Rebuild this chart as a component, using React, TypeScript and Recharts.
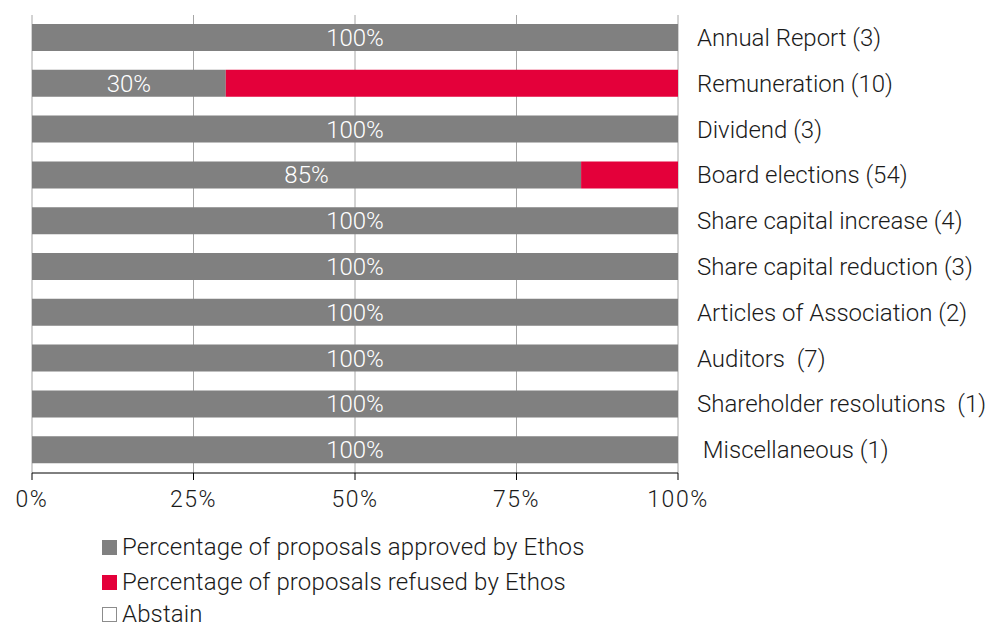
import { Bar, BarChart, CartesianGrid, LabelList, Legend, XAxis, YAxis } from "recharts";

const categories = [
  "Annual Report (3)",
  "Remuneration (10)",
  "Dividend (3)",
  "Board elections (54)",
  "Share capital increase (4)",
  "Share capital reduction (3)",
  "Articles of Association (2)",
  "Auditors  (7)",
  "Shareholder resolutions  (1)",
  " Miscellaneous (1)",
];
const approved = [100, 30, 100, 85, 100, 100, 100, 100, 100, 100];
const refused = [0, 70, 0, 15, 0, 0, 0, 0, 0, 0];
const abstain = [0, 0, 0, 0, 0, 0, 0, 0, 0, 0];
const xTicks = [0, 25, 50, 75, 100];

const GREY = "#808080";
const RED = "#e4003a";
const FONT = "Roboto, 'Liberation Sans', sans-serif";

const data = categories.map((name, i) => ({
  name,
  approved: approved[i],
  refused: refused[i],
  abstain: abstain[i],
}));

const legendItems = [
  { label: "Percentage of proposals approved by Ethos", fill: GREY, stroke: GREY },
  { label: "Percentage of proposals refused by Ethos", fill: RED, stroke: RED },
  { label: "Abstain", fill: "#ffffff", stroke: "#8c8c8c" },
];

function CategoryTick(props: any) {
  const { x, y, payload } = props;
  return (
    <text
      x={x + 19}
      y={y}
      dy={8}
      textAnchor="start"
      fill="#1a1a1a"
      fontSize={24}
      fontWeight={300}
      fontFamily={FONT}
      style={{ whiteSpace: "pre" }}
    >
      {payload.value}
    </text>
  );
}

// rows sit ~35px apart; the last one is nudged up so it stays inside the frame
const legendGaps = [0, 15, 12];

function LegendBox() {
  return (
    <div style={{ fontFamily: FONT, fontSize: 24, fontWeight: 300, color: "#1a1a1a", letterSpacing: 0.15 }}>
      {legendItems.map((it, i) => (
        <div
          key={it.label}
          style={{ display: "flex", alignItems: "center", height: 20, lineHeight: "20px", marginTop: legendGaps[i] }}
        >
          <span
            style={{
              display: "inline-block",
              width: 13,
              height: 13,
              background: it.fill,
              border: `1px solid ${it.stroke}`,
              marginRight: 5,
            }}
          />
          <span>{it.label}</span>
        </div>
      ))}
    </div>
  );
}

export default function App() {
  return (
    <div style={{ position: "absolute", left: 0, top: 0, width: 991, height: 628, background: "#fff", overflow: "hidden" }}>
      <BarChart
        width={991}
        height={628}
        data={data}
        layout="vertical"
        margin={{ top: 15, right: 0, bottom: 105, left: 32 }}
        barSize={27}
      >
        <CartesianGrid horizontal={false} stroke="#a6a6a6" />
        <XAxis
          type="number"
          domain={[0, 100]}
          ticks={xTicks}
          interval={0}
          tickFormatter={(v: number) => `${v}%`}
          axisLine={{ stroke: "#000" }}
          tickLine={{ stroke: "#000" }}
          tickSize={7}
          tickMargin={11}
          height={50}
          tick={{ fill: "#1a1a1a", fontSize: 23, fontFamily: FONT, fontWeight: 300, letterSpacing: 1.5 }}
        />
        <YAxis
          type="category"
          dataKey="name"
          yAxisId={0}
          orientation="left"
          width={0}
          axisLine={{ stroke: "#000" }}
          tickLine={false}
          tick={false}
        />
        <YAxis
          type="category"
          dataKey="name"
          yAxisId="right"
          orientation="right"
          width={313}
          axisLine={false}
          tickLine={false}
          tickSize={0}
          tickMargin={0}
          interval={0}
          tick={<CategoryTick />}
        />
        <Legend
          layout="horizontal"
          verticalAlign="middle"
          align="center"
          content={<LegendBox />}
          wrapperStyle={{ position: "absolute", top: 537, left: 102, width: 700 }}
        />
        <Bar dataKey="approved" name="Percentage of proposals approved by Ethos" stackId="a" fill={GREY} isAnimationActive={false}>
          <LabelList
            dataKey="approved"
            position="center"
            formatter={(v: any) => `${v}%`}
            fill="#ffffff"
            fontSize={24}
            fontFamily={FONT}
            fontWeight={300}
          />
        </Bar>
        <Bar dataKey="refused" name="Percentage of proposals refused by Ethos" stackId="a" fill={RED} isAnimationActive={false} />
        <Bar dataKey="abstain" name="Abstain" stackId="a" fill="#ffffff" isAnimationActive={false} />
      </BarChart>
    </div>
  );
}
